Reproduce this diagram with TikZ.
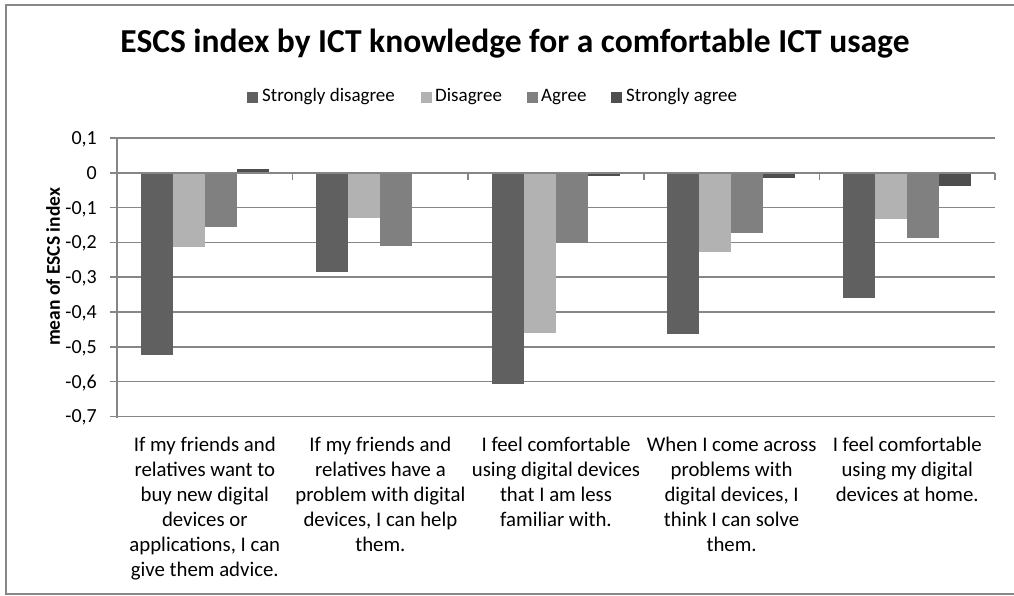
\documentclass[tikz,border=0pt]{standalone}
\usepackage{fontspec}
\setmainfont{Carlito}
\begin{document}
\begin{tikzpicture}[x=1pt,y=-1pt,
  grid/.style={draw=gridgray,line width=1.6pt},
  frame/.style={draw=framegray,line width=2pt},
  ticklab/.style={anchor=base east,font=\fontsize{20}{22}\selectfont,text=black,inner sep=0pt},
  catlab/.style={anchor=north,align=center,font=\fontsize{20.8}{25}\selectfont,inner sep=0pt},
  legsq/.style={minimum size=11pt,inner sep=0pt,draw=none},
  legtxt/.style={anchor=base west,font=\fontsize{19}{21}\selectfont,inner sep=0pt}]
\definecolor{gridgray}{HTML}{868686}
\definecolor{framegray}{HTML}{878787}
\definecolor{sdcol}{HTML}{606060}
\definecolor{dcol}{HTML}{B2B2B2}
\definecolor{acol}{HTML}{808080}
\definecolor{sacol}{HTML}{4E4E4E}
\useasboundingbox[fill=white] (0,0) rectangle (1014,596);
% frame
\draw[frame] (1014,5) -- (6,5) -- (6,594) -- (1014,594);
% title
\node[font=\bfseries\fontsize{33.5}{38}\selectfont,inner sep=0pt] (title) at (515,44) {ESCS index by ICT knowledge for a comfortable ICT usage};
% legend
\node[legsq,fill=sdcol] (lsq1) at (252.5,97.5) {};
\node[legtxt] (lt1) at (262,102) {Strongly disagree};
\node[legsq,fill=dcol] (lsq2) at (426.5,97.5) {};
\node[legtxt] (lt2) at (435,102) {Disagree};
\node[legsq,fill=acol] (lsq3) at (532.5,97.5) {};
\node[legtxt] (lt3) at (541,102) {Agree};
\node[legsq,fill=sacol] (lsq4) at (616.5,97.5) {};
\node[legtxt] (lt4) at (626,102) {Strongly agree};
% gridlines and y labels
\foreach \v/\lab [count=\i] in {0.1/{0,1},0/{0},-0.1/{-0,1},-0.2/{-0,2},-0.3/{-0,3},-0.4/{-0,4},-0.5/{-0,5},-0.6/{-0,6},-0.7/{-0,7}}{
  \pgfmathsetmacro{\yy}{172.8-\v*348}
  \draw[grid] (110,\yy) -- (995,\yy);
  \node[ticklab] (yl\i) at (97,\yy+6.5) {\lab};
}
% y axis
\draw[grid] (117,138) -- (117,417.6);
% bars
\foreach \c/\a/\b/\cc/\d in {1/-0.524/-0.212/-0.157/0.010,2/-0.284/-0.131/-0.209/-0.003,3/-0.607/-0.459/-0.201/-0.010,4/-0.463/-0.227/-0.174/-0.014,5/-0.359/-0.134/-0.188/-0.038}{
  \pgfmathsetmacro{\xl}{117+(\c-1)*175.6+23.5}
  \fill[sdcol] (\xl,172.8) rectangle ({\xl+32},{172.8-\a*348});
  \fill[dcol] ({\xl+32},172.8) rectangle ({\xl+64},{172.8-\b*348});
  \fill[acol] ({\xl+64},172.8) rectangle ({\xl+96},{172.8-\cc*348});
  \fill[sacol] ({\xl+96},172.8) rectangle ({\xl+128},{172.8-\d*348});
}
% x axis at zero with ticks
\draw[grid] (117,172.8) -- (995,172.8);
\foreach \k in {0,...,5}{
  \draw[grid] ({117+\k*175.6},172.8) -- ({117+\k*175.6},180);
}
% y axis title
\node[rotate=90,font=\bfseries\fontsize{19.5}{22}\selectfont,inner sep=0pt] (ytitle) at (53,267) {mean of ESCS index};
% category labels
\node[catlab] (c1) at (204.8,437) {If my friends and\\relatives want to\\buy new digital\\devices or\\applications, I can\\give them advice.};
\node[catlab] (c2) at (380.4,437) {If my friends and\\relatives have a\\problem with digital\\devices, I can help\\them.};
\node[catlab] (c3) at (556,437) {I feel comfortable\\using digital devices\\that I am less\\familiar with.};
\node[catlab] (c4) at (731.6,437) {When I come across\\problems with\\digital devices, I\\think I can solve\\them.};
\node[catlab] (c5) at (907.2,437) {I feel comfortable\\using my digital\\devices at home.};
\end{tikzpicture}
\end{document}
